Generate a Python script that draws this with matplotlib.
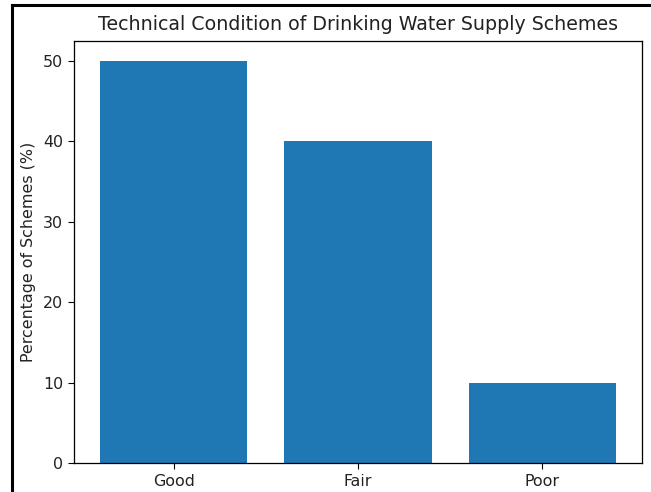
import matplotlib.pyplot as plt
from matplotlib.lines import Line2D

conditions = ['Good', 'Fair', 'Poor']
percentages = [50, 40, 10]

# reference looks like a default plot scaled up ~1.14x
s = 1.14
plt.rcParams.update({
    'font.size': 10 * s,
    'axes.titlesize': 12 * s,
    'axes.titlepad': 8,
    'axes.labelpad': 4 * s,
    'xtick.major.size': 3.5 * s,
    'ytick.major.size': 3.5 * s,
    'xtick.major.pad': 3.5 * s,
    'ytick.major.pad': 3.5 * s,
    'axes.linewidth': 0.8 * s,
    'text.color': '#222222',
    'xtick.labelcolor': '#222222',
    'ytick.labelcolor': '#222222',
    'axes.labelcolor': '#222222',
})

fig = plt.figure(figsize=(6.51, 4.92), dpi=100)
ax = fig.add_axes([74/651, 29/492, 568/651, 422/492])
ax.bar(conditions, percentages, color='#1f77b4')
ax.set_ylabel('Percentage of Schemes (%)')
ax.set_title('Technical Condition of Drinking Water Supply Schemes')

# screenshot frame (left and top edges)
fig.add_artist(Line2D([12/651, 12/651], [0, 1 - 5/492], transform=fig.transFigure,
                      color='black', lw=2.2))
fig.add_artist(Line2D([12/651, 1], [1 - 5/492, 1 - 5/492], transform=fig.transFigure,
                      color='black', lw=2.2))

fig.savefig('out.png', dpi=100)
